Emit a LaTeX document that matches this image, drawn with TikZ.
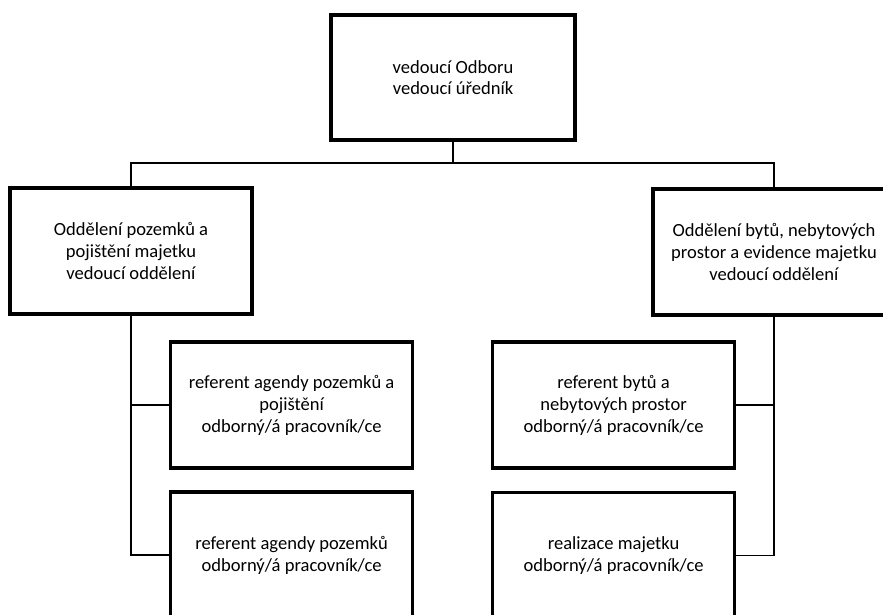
\documentclass[tikz,border=0pt]{standalone}
\usepackage{fontspec}
\setmainfont{Carlito}
\usepackage{xcolor}
\usepackage{tikz}
\usetikzlibrary{positioning}

\tikzset{
	blok/.style = {draw, line width=2.6pt, minimum width=6.05cm, minimum height=3.15cm,
		align=center, inner sep=2pt, font=\fontsize{13.2}{15.6}\selectfont},
	spoj/.style = {line width=0.9pt}
}

\begin{document}
\begin{tikzpicture}
			\useasboundingbox (0,0) rectangle (22.075,15.35);
			\clip (0,0) rectangle (22.075,15.35);
			
			% vedeni odboru
			\node [blok, minimum width=6.1cm, minimum height=3.12cm] (vedouci) at (11.325,13.41) {vedoucí Odboru\\vedoucí úředník};
			\coordinate (sbernice) at (11.325,11.275);
			
			% oddeleni
			\node [blok] (pozemky) at (3.275,9.075) {Oddělení pozemků a\\pojištění majetku\\vedoucí oddělení};
			\node [blok] (byty) at (19.35,9.05) {Oddělení bytů, nebytových\\prostor a evidence majetku\\vedoucí oddělení};
			
			% referenti
			\node [blok] (refpoj) at (7.29,5.225) {referent agendy pozemků a\\pojištění\\odborný/á pracovník/ce};
			\node [blok] (refpoz) at (7.29,1.475) {referent agendy pozemků\\odborný/á pracovník/ce};
			\node [blok] (refbyt) at (15.34,5.225) {referent bytů a\\nebytových prostor\\odborný/á pracovník/ce};
			\node [blok] (realiz) at (15.34,1.46) {realizace majetku\\odborný/á pracovník/ce};
			
			\draw [spoj] (vedouci.south) -- (sbernice);
			\draw [spoj] (pozemky.north) |- (sbernice) -| (byty.north);
			
			\draw [spoj] (pozemky.south) |- (refpoj.west);
			\draw [spoj] (pozemky.south) |- (refpoz.west);
			\draw [spoj] (byty.south) |- (refbyt.east);
			\draw [spoj] (byty.south) |- (realiz.east);
		\end{tikzpicture}
\end{document}
